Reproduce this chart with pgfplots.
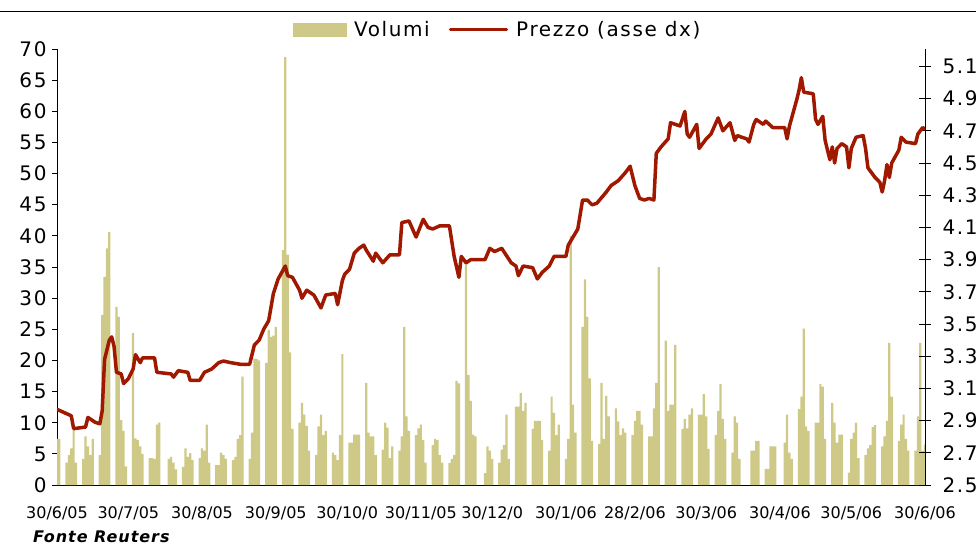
\documentclass[border=0pt]{standalone}
\usepackage{fontspec}
\setmainfont{DejaVu Sans}
\newfontfamily\lsfont[LetterSpace=8]{DejaVu Sans}
\newfontfamily\fontefont[LetterSpace=6,BoldItalicFont={DejaVu Sans Bold Oblique}]{DejaVu Sans}
\usepackage{pgfplots}
\pgfplotsset{compat=1.18}
\usepackage{pgfplotstable}
\definecolor{volcol}{RGB}{206,201,134}
\definecolor{przcol}{RGB}{160,24,0}

% volumi giornalieri (giorno dal 30/6/05, volume)
\pgfplotstableread{
day vol
0 7.4
1 7.4
4 3.6
5 4.8
6 5.9
7 9.5
8 3.6
11 4.2
12 7.8
13 6.2
14 4.8
15 7.4
18 4.8
19 27.3
20 33.4
21 38.0
22 40.6
25 28.6
26 27.0
27 10.4
28 8.7
29 3.0
32 24.4
33 7.5
34 7.2
35 6.2
36 5.0
39 4.3
40 4.3
41 4.2
42 9.7
43 10.0
47 4.2
48 4.5
49 3.6
50 2.5
53 2.9
54 5.9
55 4.5
56 5.1
57 4.0
60 4.3
61 5.9
62 5.5
63 9.7
64 3.6
67 3.2
68 3.2
69 5.2
70 4.8
71 4.2
74 4.0
75 4.5
76 7.4
77 8.0
78 17.4
81 4.2
82 8.4
83 20.3
84 20.2
85 20.0
88 19.6
89 24.9
90 23.8
91 24.0
92 25.4
95 37.7
96 68.7
97 37.0
98 21.3
99 9.0
102 10.0
103 13.2
104 11.3
105 9.5
106 5.5
109 4.8
110 9.4
111 11.3
112 8.0
113 8.7
116 5.2
117 4.8
118 4.0
119 8.0
120 21.0
123 6.8
124 6.8
125 8.1
126 8.1
127 8.1
130 16.4
131 8.4
132 7.8
133 7.8
134 4.8
137 5.7
138 10.0
139 9.2
140 4.3
141 6.2
144 5.5
145 7.8
146 25.4
147 11.0
148 8.7
151 8.0
152 9.1
153 9.7
154 7.2
155 3.6
158 6.4
159 7.4
160 7.2
161 4.8
162 3.6
165 3.5
166 4.2
167 4.8
168 16.7
169 16.3
172 35.5
173 17.7
174 13.5
175 8.1
176 7.8
180 1.9
181 6.2
182 5.5
183 4.2
186 3.6
187 5.7
188 6.4
189 11.3
190 4.2
193 12.6
194 12.6
195 14.8
196 11.9
197 13.2
200 9.0
201 10.3
202 10.3
203 10.3
204 7.2
207 5.5
208 14.2
209 11.6
210 8.0
211 9.7
214 4.2
215 7.4
216 40.0
217 12.9
218 8.4
221 25.4
222 33.0
223 27.0
224 17.1
225 7.1
228 6.6
229 16.4
230 7.4
231 14.3
232 11.0
235 12.3
236 10.2
237 8.0
238 9.1
239 8.4
242 8.0
243 10.3
244 11.9
245 11.9
246 9.7
249 7.8
250 7.8
251 12.3
252 16.4
253 35.0
256 23.2
257 11.9
258 12.9
259 12.9
260 22.5
263 9.0
264 10.6
265 9.1
266 11.3
267 12.3
270 11.3
271 11.3
272 14.6
273 11.0
274 5.8
277 8.0
278 11.9
279 16.2
280 10.6
281 7.4
284 5.2
285 11.0
286 10.0
287 4.2
292 5.5
293 5.5
294 7.1
295 7.1
298 2.6
299 2.6
300 6.2
301 6.2
302 6.2
306 6.8
307 11.3
308 5.2
309 4.2
312 12.2
313 14.2
314 25.1
315 9.4
316 8.7
319 10.0
320 10.0
321 16.2
322 15.8
323 7.4
326 13.2
327 10.0
328 6.8
329 8.1
330 8.1
333 2.0
334 7.4
335 8.4
336 10.0
337 4.3
340 4.8
341 5.9
342 6.4
343 9.3
344 9.6
347 6.2
348 7.8
349 10.3
350 22.8
351 14.2
354 7.1
355 9.7
356 11.3
357 7.4
358 5.5
361 5.5
362 11.0
363 22.8
364 5.5
365 6.5
}\voltab

% prezzo (asse dx)
\pgfplotstableread{
day prezzo
0 2.97
6 2.93
7 2.85
12 2.86
13 2.92
16 2.89
18 2.88
19 2.96
20 3.28
22 3.40
23 3.42
24 3.36
25 3.20
27 3.19
28 3.13
30 3.16
32 3.22
33 3.31
35 3.26
36 3.29
41 3.29
42 3.20
48 3.19
49 3.17
51 3.21
55 3.20
56 3.15
60 3.15
62 3.20
65 3.22
68 3.26
70 3.27
73 3.26
77 3.25
81 3.25
83 3.37
85 3.40
87 3.47
89 3.52
91 3.69
93 3.78
96 3.86
97 3.80
99 3.79
102 3.71
103 3.66
105 3.71
108 3.68
111 3.60
113 3.68
117 3.69
118 3.62
120 3.77
121 3.81
123 3.84
125 3.94
127 3.97
129 3.99
130 3.96
133 3.89
134 3.94
137 3.88
140 3.93
144 3.93
145 4.13
148 4.14
151 4.04
154 4.15
156 4.10
158 4.09
161 4.11
165 4.11
167 3.92
169 3.79
170 3.92
172 3.88
174 3.90
180 3.90
182 3.97
184 3.95
187 3.97
191 3.88
193 3.86
194 3.80
196 3.86
200 3.85
202 3.78
204 3.82
207 3.86
209 3.92
214 3.92
215 3.99
219 4.09
221 4.27
223 4.27
225 4.24
227 4.25
231 4.32
233 4.36
236 4.39
239 4.44
241 4.48
243 4.36
245 4.28
247 4.27
249 4.28
251 4.27
252 4.56
254 4.60
257 4.65
258 4.75
262 4.73
264 4.82
265 4.68
266 4.66
269 4.74
270 4.59
273 4.65
275 4.68
278 4.78
280 4.70
283 4.75
285 4.64
286 4.67
290 4.65
291 4.63
293 4.74
294 4.77
297 4.74
298 4.76
301 4.72
306 4.72
307 4.65
308 4.73
311 4.89
312 4.95
313 5.03
314 4.94
318 4.93
319 4.77
320 4.74
322 4.79
323 4.64
325 4.52
326 4.60
327 4.50
328 4.59
330 4.62
332 4.60
333 4.47
334 4.59
336 4.66
339 4.67
340 4.59
341 4.47
344 4.41
346 4.38
347 4.32
348 4.39
349 4.49
350 4.41
351 4.50
354 4.58
355 4.66
357 4.63
361 4.62
362 4.68
364 4.72
365 4.71
}\prztab

\begin{document}
\begin{tikzpicture}
\useasboundingbox (0,0) rectangle (976bp,-543bp);
\clip (0,0) rectangle (976bp,-543bp);
\draw[line width=0.8bp] (0,-11bp) -- (976bp,-11bp);

\begin{axis}[
  at={(57bp,-485bp)}, anchor=south west,
  scale only axis, width=868bp, height=436bp,
  xmin=0, xmax=365, ymin=0, ymax=70,
  axis x line*=bottom, axis y line*=left,
  axis line style={-, line width=0.8bp},
  ybar, bar width=2.2bp,
  xtick={0,30,61,92,122,153,183,214,243,273,304,334,365},
  xticklabels={30/6/05,30/7/05,30/8/05,30/9/05,30/10/0,30/11/05,30/12/0,30/1/06,28/2/06,30/3/06,30/4/06,30/5/06,30/6/06},
  x tick style={draw=none},
  xticklabel style={font=\fontsize{16bp}{19bp}\selectfont, inner sep=0pt, yshift=-16bp},
  ytick={0,5,...,70},
  y tick style={line width=0.8bp, black},
  tick align=outside, major tick length=5bp,
  yticklabel style={font=\lsfont\fontsize{20bp}{24bp}\selectfont, xshift=-2bp},
  /pgf/number format/assume math mode=true,
]
\addplot[fill=volcol, draw=none] table[x=day, y=vol] {\voltab};
\end{axis}

\begin{axis}[
  at={(57bp,-485bp)}, anchor=south west,
  scale only axis, width=868bp, height=436bp,
  xmin=0, xmax=365, ymin=2.5, ymax=5.208,
  axis x line=none, axis y line*=right,
  axis line style={-, line width=0.8bp},
  ytick={2.5,2.7,2.9,3.1,3.3,3.5,3.7,3.9,4.1,4.3,4.5,4.7,4.9,5.1},
  y tick style={line width=0.8bp, black},
  tick align=center, major tick length=12bp,
  yticklabel style={font=\lsfont\fontsize{20bp}{24bp}\selectfont, xshift=8bp,
    /pgf/number format/.cd, fixed, precision=1, assume math mode=true},
  legend columns=2,
  legend style={draw=none, fill=none, at={(0.5075,1.0447)}, anchor=center,
    font=\lsfont\fontsize{20bp}{24bp}\selectfont,
    /tikz/every odd column/.append style={column sep=6bp},
    /tikz/every even column/.append style={column sep=17bp}},
]
\addlegendimage{legend image code/.code={\fill[volcol] (0bp,-6.5bp) rectangle (53bp,6.5bp);}}
\addlegendentry{Volumi}
\addplot[przcol, line width=3.5bp, line join=round, line cap=round,
  legend image code/.code={\draw[przcol, line width=3.5bp] (0bp,0bp) -- (56bp,0bp);}]
  table[x=day, y=prezzo] {\prztab};
\addlegendentry{Prezzo (asse dx)}
\end{axis}

\node[anchor=north west, inner sep=0pt, font=\fontefont\fontsize{16bp}{19bp}\selectfont\bfseries\itshape]
  at (33bp,-531bp) {Fonte Reuters};
\end{tikzpicture}
\end{document}
